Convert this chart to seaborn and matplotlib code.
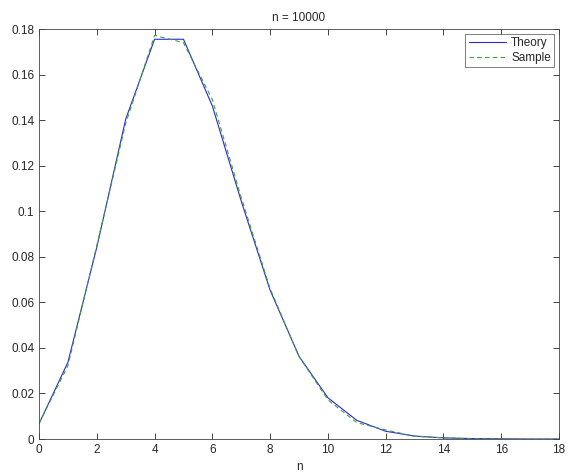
import pandas as pd
import matplotlib
matplotlib.use("Agg")
import matplotlib.pyplot as plt
import seaborn as sns

n_vals = list(range(19))
theory = [0.0067, 0.0337, 0.0842, 0.1404, 0.1755, 0.1755, 0.1462, 0.1044,
          0.0653, 0.0363, 0.0181, 0.0082, 0.0034, 0.0013, 0.0005, 0.0002,
          0.0001, 0.0, 0.0]
sample = [0.0068, 0.0322, 0.0850, 0.1385, 0.1772, 0.1740, 0.1490, 0.1060,
          0.0660, 0.0362, 0.0172, 0.0072, 0.0040, 0.0012, 0.0005, 0.0001,
          0.0, 0.0, 0.0]

df = pd.DataFrame({
    'n': n_vals * 2,
    'p': theory + sample,
    'kind': ['Theory'] * len(n_vals) + ['Sample'] * len(n_vals),
})

sns.set_style("ticks")
plt.rcParams['font.family'] = ['Liberation Sans', 'DejaVu Sans']

fig = plt.figure(figsize=(5.68, 4.74), dpi=100)
ax = fig.add_axes([0.0687, 0.0738, 0.9155, 0.865])

sns.lineplot(data=df, x='n', y='p', hue='kind', style='kind',
             palette={'Theory': '#2a2ad0', 'Sample': '#40a040'},
             dashes={'Theory': '', 'Sample': (4, 3)},
             linewidth=0.8, ax=ax)

ax.set_xlim(0, 18)
ax.set_ylim(0, 0.18)
ax.set_xticks(range(0, 19, 2))
ax.set_yticks([0, 0.02, 0.04, 0.06, 0.08, 0.1, 0.12, 0.14, 0.16, 0.18])
ax.set_yticklabels(['0', '0.02', '0.04', '0.06', '0.08', '0.1', '0.12', '0.14', '0.16', '0.18'])
ax.tick_params(direction='in', top=True, right=True, labelsize=8.5, length=4, width=0.6)
for s in ax.spines.values():
    s.set_linewidth(0.6)
    s.set_color('#444444')
ax.set_title('n = 10000', fontsize=8.5, pad=6)
ax.set_xlabel('n', fontsize=8.5, labelpad=4)
ax.set_ylabel('')
leg = ax.legend(loc='upper right', fontsize=8.5, frameon=True, fancybox=False,
                handlelength=3.2, borderpad=0.3, labelspacing=0.2,
                handletextpad=0.4, borderaxespad=0.4)
leg.get_frame().set_edgecolor('#444444')
leg.get_frame().set_linewidth(0.6)

fig.savefig('out.png', dpi=100)
